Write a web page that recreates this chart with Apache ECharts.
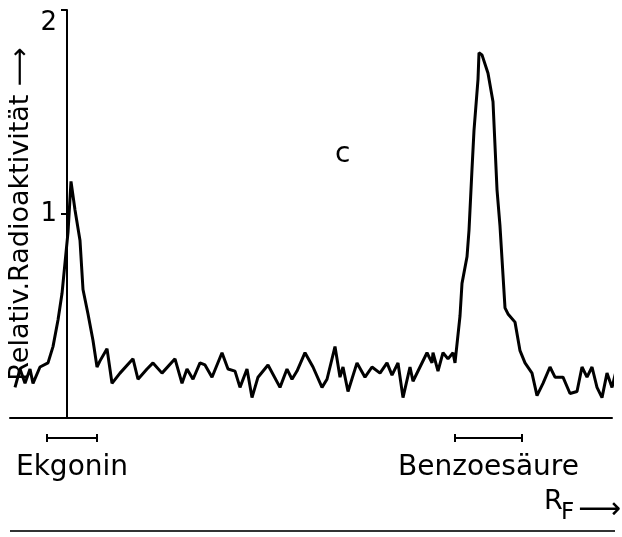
<!DOCTYPE html>
<html>
<head>
<meta charset="utf-8">
<script src="https://cdn.jsdelivr.net/npm/echarts@6/dist/echarts.min.js"></script>
<style>
  html, body { margin: 0; padding: 0; background: #fff; }
  #chart { width: 622px; height: 537px; }
</style>
</head>
<body>
<div id="chart"></div>
<script>
// Laufstrecke (willkürliche Einheit, 0 = Start) und relative Radioaktivität
const distance = [
  -52, -47, -42, -37, -34, -27, -19, -14, -9, -5, -2, 1, 4, 8, 13, 16, 21, 26, 30, 33,
  40, 45, 53, 66, 71, 80, 86, 95, 108, 115, 120, 126, 133, 138, 145, 155, 161, 168, 173, 180,
  185, 191, 201, 213, 220, 225, 230, 238, 246, 255, 260, 268, 273, 276, 281, 290, 298, 305, 313, 320,
  325, 331, 336, 343, 346, 353, 360, 365, 366, 371, 376, 381, 386, 388, 393, 395, 400, 402, 405, 407,
  411, 412, 415, 421, 426, 430, 433, 438, 441, 448, 453, 458, 465, 470, 476, 483, 488, 496, 503, 510,
  515, 520, 525, 530, 535, 540, 545, 551, 555
];
const activity = [
  0.15, 0.24, 0.17, 0.24, 0.17, 0.25, 0.27, 0.35, 0.48, 0.61, 0.76, 0.91, 1.16, 1.02, 0.87, 0.63, 0.51, 0.38, 0.25, 0.28,
  0.34, 0.17, 0.22, 0.29, 0.19, 0.24, 0.27, 0.22, 0.29, 0.17, 0.24, 0.19, 0.27, 0.26, 0.20, 0.32, 0.24, 0.23, 0.15, 0.24,
  0.10, 0.20, 0.26, 0.15, 0.24, 0.19, 0.23, 0.32, 0.25, 0.15, 0.19, 0.35, 0.20, 0.25, 0.13, 0.27, 0.20, 0.25, 0.22, 0.27,
  0.21, 0.27, 0.10, 0.25, 0.18, 0.25, 0.32, 0.27, 0.32, 0.23, 0.32, 0.29, 0.32, 0.27, 0.50, 0.66, 0.79, 0.92, 1.22, 1.41,
  1.66, 1.79, 1.78, 1.69, 1.55, 1.12, 0.94, 0.54, 0.51, 0.47, 0.33, 0.27, 0.22, 0.11, 0.17, 0.25, 0.20, 0.20, 0.12, 0.13,
  0.25, 0.20, 0.25, 0.15, 0.10, 0.22, 0.15, 0.27, 0.22
];
// Vergleichssubstanzen (Laufbereich)
const standardNames = ['Ekgonin', 'Benzoesäure'];
const standardStart = [-20, 388];
const standardEnd = [30, 455];
const yTicks = [1, 2];

const FONT = 'DejaVu Sans';
const myChart = echarts.init(document.getElementById('chart'));

const option = {
  animation: false,
  backgroundColor: '#fff',
  grid: { left: 10, right: 10, top: 10, bottom: 119, outerBoundsMode: 'none' },
  xAxis: {
    type: 'value',
    min: -57,
    max: 545,
    axisLine: { onZero: false, lineStyle: { color: '#000', width: 2 } },
    axisTick: { show: false },
    axisLabel: { show: false },
    splitLine: { show: false }
  },
  yAxis: {
    type: 'value',
    min: 0,
    max: 2,
    interval: 1,
    offset: -57, // Achse liegt beim Start (x = 0)
    name: 'Relativ.Radioaktivität \u27F6',
    nameLocation: 'middle',
    nameRotate: 90,
    nameGap: 33,
    nameMoveOverlap: false,
    nameTextStyle: { fontFamily: FONT, fontSize: 27, color: '#000' },
    axisLine: { onZero: false, lineStyle: { color: '#000', width: 2 } },
    axisTick: { customValues: yTicks, length: 6, lineStyle: { color: '#000', width: 2 } },
    axisLabel: {
      fontFamily: FONT, fontSize: 26, color: '#000', margin: 10,
      verticalAlignMaxLabel: 'top',
      formatter: (v) => (v === 0 ? '' : String(v))
    },
    splitLine: { show: false }
  },
  series: [
    {
      type: 'line',
      data: distance.map((d, i) => [d, activity[i]]),
      symbol: 'none',
      clip: false,
      lineStyle: { color: '#000', width: 3 }
    },
    {
      type: 'custom',
      clip: false,
      encode: { x: [0, 1] },
      data: standardStart.map((s, i) => [s, standardEnd[i]]),
      renderItem(params, api) {
        const a = api.coord([api.value(0), 0]);
        const b = api.coord([api.value(1), 0]);
        const y = a[1] + 20;
        const stroke = { stroke: '#000', lineWidth: 2 };
        return {
          type: 'group',
          children: [
            { type: 'line', shape: { x1: a[0], y1: y, x2: b[0], y2: y }, style: stroke },
            { type: 'line', shape: { x1: a[0], y1: y - 4, x2: a[0], y2: y + 4 }, style: stroke },
            { type: 'line', shape: { x1: b[0], y1: y - 4, x2: b[0], y2: y + 4 }, style: stroke },
            {
              type: 'text',
              style: {
                text: standardNames[params.dataIndex],
                x: (a[0] + b[0]) / 2,
                y: y + 30,
                align: 'center',
                verticalAlign: 'middle',
                fontFamily: FONT,
                fontSize: 28,
                fill: '#000'
              }
            }
          ]
        };
      }
    }
  ],
  graphic: [
    { type: 'text', left: 335, top: 141, style: { text: 'c', fontFamily: FONT, fontSize: 28, fill: '#000' } },
    { type: 'text', left: 544, top: 488, style: { text: 'R', fontFamily: FONT, fontSize: 27, fill: '#000' } },
    { type: 'text', left: 561, top: 502, style: { text: 'F', fontFamily: FONT, fontSize: 23, fill: '#000' } },
    { type: 'text', left: 578, top: 495, style: { text: '\u27F6', fontFamily: FONT, fontSize: 30, fill: '#000' } },
    { type: 'line', shape: { x1: 10, y1: 531, x2: 615, y2: 531 }, style: { stroke: '#333', lineWidth: 2 } }
  ]
};

myChart.setOption(option);
</script>
</body>
</html>
